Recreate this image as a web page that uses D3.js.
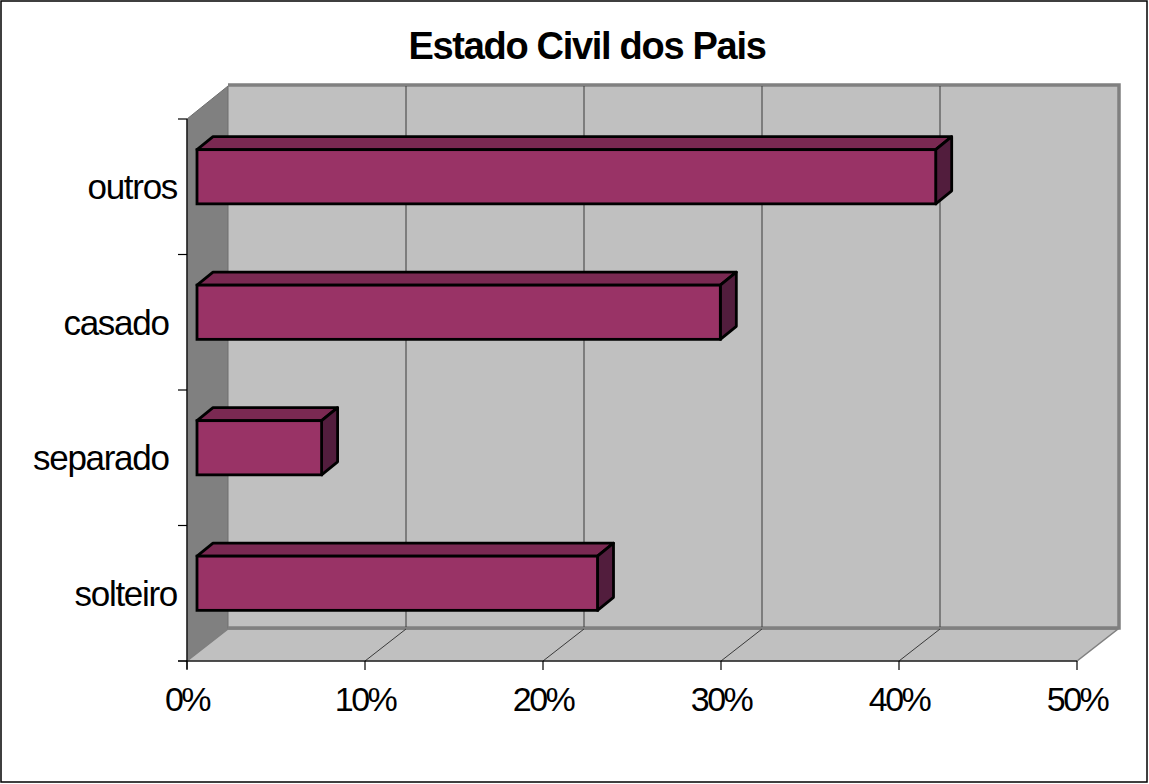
<!DOCTYPE html>
<html>
<head>
<meta charset="utf-8">
<script src="https://cdn.jsdelivr.net/npm/d3@7"></script>
<style>
  html, body { margin: 0; padding: 0; background: #ffffff; }
  svg { display: block; }
  text { font-family: "Liberation Sans", Arial, sans-serif; }
</style>
</head>
<body>
<div id="chart"></div>
<script>
// ---- data ----
const title = "Estado Civil dos Pais";
const categories = ["solteiro", "separado ", "casado ", "outros"]; // bottom to top
const values = [22.5, 7.0, 29.4, 41.5]; // percent
const tickValues = [0, 10, 20, 30, 40, 50];
const tickLabels = ["0%", "10%", "20%", "30%", "40%", "50%"];

// ---- layout ----
const W = 1149, H = 784;
const frontLeft = 187, frontRight = 1077, frontTop = 119, frontBottom = 661;
const DX = 41, DY = -32;          // wall depth
const BX = 10, BY = -10;          // bar front offset from front plane
const BDX = 16, BDY = -13;        // bar depth

const svg = d3.select("#chart").append("svg").attr("width", W).attr("height", H);

const x = d3.scaleLinear().domain([0, 50]).range([frontLeft, frontRight]);
const y = d3.scaleBand().domain(categories.slice().reverse()).range([frontTop, frontBottom])
  .paddingInner(0.6).paddingOuter(0.3);
const yb = d3.scaleBand().domain(categories.slice().reverse()).range([frontTop, frontBottom]);

// outer border
svg.append("rect").attr("x", 1).attr("y", 1).attr("width", W - 3).attr("height", H - 3)
  .attr("fill", "#fff").attr("stroke", "#000").attr("stroke-width", 1.5);

// back wall
const bx0 = x(0) + DX, bx1 = x(50) + DX, by0 = frontTop + DY - 3, by1 = frontBottom + DY;
svg.append("rect").attr("x", bx0).attr("y", by0).attr("width", bx1 - bx0).attr("height", by1 - by0)
  .attr("fill", "#c0c0c0");

// left side wall
svg.append("polygon")
  .attr("points", [[frontLeft, frontTop], [bx0, by0 + 2], [bx0, by1], [frontLeft, frontBottom]].map(p => p.join(",")).join(" "))
  .attr("fill", "#808080").attr("stroke", "#6e6e6e").attr("stroke-width", 1);

// floor
svg.append("polygon")
  .attr("points", [[frontLeft, frontBottom], [bx0, by1], [bx1, by1], [frontRight, frontBottom]].map(p => p.join(",")).join(" "))
  .attr("fill", "#c0c0c0").attr("stroke", "#808080").attr("stroke-width", 1.5);

// back wall border
svg.append("path")
  .attr("d", `M${bx0},${by0 + 1}H${bx1 + 1}V${by1 - 1}H${bx0}`)
  .attr("fill", "none").attr("stroke", "#808080").attr("stroke-width", 3.5);

// gridlines (back wall + floor)
const gridVals = tickValues.slice(1, -1);
svg.selectAll(".gridv").data(gridVals).enter().append("line")
  .attr("x1", d => x(d) + DX).attr("x2", d => x(d) + DX)
  .attr("y1", by0 + 2).attr("y2", by1 - 2)
  .attr("stroke", "#3a3a3a").attr("stroke-width", 1);
svg.selectAll(".gridf").data(gridVals).enter().append("line")
  .attr("x1", d => x(d)).attr("y1", frontBottom)
  .attr("x2", d => x(d) + DX).attr("y2", by1)
  .attr("stroke", "#3a3a3a").attr("stroke-width", 1);

// bars
const barColor = "#993366", barTop = "#7a2952", barSide = "#521d3d";
const bars = svg.selectAll(".bar").data(categories.map((c, i) => ({ c, v: values[i] })))
  .enter().append("g");
bars.each(function (d) {
  const g = d3.select(this);
  const x0 = x(0) + BX, x1 = x(d.v) + BX;
  const y0 = y(d.c) + BY, h = y.bandwidth();
  const sw = 2.8;
  g.append("polygon")
    .attr("points", [[x0, y0], [x0 + BDX, y0 + BDY], [x1 + BDX, y0 + BDY], [x1, y0]].map(p => p.join(",")).join(" "))
    .attr("fill", barTop).attr("stroke", "#000").attr("stroke-width", sw).attr("stroke-linejoin", "round");
  g.append("polygon")
    .attr("points", [[x1, y0], [x1 + BDX, y0 + BDY], [x1 + BDX, y0 + h + BDY], [x1, y0 + h]].map(p => p.join(",")).join(" "))
    .attr("fill", barSide).attr("stroke", "#000").attr("stroke-width", sw).attr("stroke-linejoin", "round");
  g.append("rect").attr("x", x0).attr("y", y0).attr("width", x1 - x0).attr("height", h)
    .attr("fill", barColor).attr("stroke", "#000").attr("stroke-width", sw);
});

// axes lines
svg.append("line").attr("x1", frontLeft).attr("x2", frontLeft).attr("y1", frontTop).attr("y2", frontBottom + 8)
  .attr("stroke", "#000").attr("stroke-width", 1.2);
svg.append("line").attr("x1", frontLeft - 9).attr("x2", frontRight).attr("y1", frontBottom).attr("y2", frontBottom)
  .attr("stroke", "#000").attr("stroke-width", 1.2);

// category ticks
const catTicks = categories.map(c => yb(c)).concat([frontBottom]);
svg.selectAll(".ctick").data(catTicks).enter().append("line")
  .attr("x1", frontLeft - 9).attr("x2", frontLeft).attr("y1", d => d).attr("y2", d => d)
  .attr("stroke", "#000").attr("stroke-width", 1.2);

// value ticks
svg.selectAll(".vtick").data(tickValues).enter().append("line")
  .attr("x1", d => x(d)).attr("x2", d => x(d)).attr("y1", frontBottom).attr("y2", frontBottom + 9)
  .attr("stroke", "#000").attr("stroke-width", 1.2);

// labels
svg.selectAll(".clabel").data(categories).enter().append("text")
  .attr("x", frontLeft - 10).attr("y", d => yb(d) + yb.bandwidth() / 2)
  .attr("text-anchor", "end").attr("dominant-baseline", "central")
  .style("white-space", "pre")
  .attr("font-size", 35).attr("letter-spacing", -1.3).attr("fill", "#000")
  .text(d => d);

svg.selectAll(".xlabel").data(tickValues).enter().append("text")
  .attr("x", d => x(d)).attr("y", frontBottom + 50)
  .attr("text-anchor", "middle")
  .attr("font-size", 34).attr("letter-spacing", -2.5).attr("fill", "#000")
  .text((d, i) => tickLabels[i]);

svg.append("text").attr("x", 587).attr("y", 59).attr("text-anchor", "middle")
  .attr("font-size", 38).attr("font-weight", "bold").attr("letter-spacing", -1.3)
  .text(title);
</script>
</body>
</html>
